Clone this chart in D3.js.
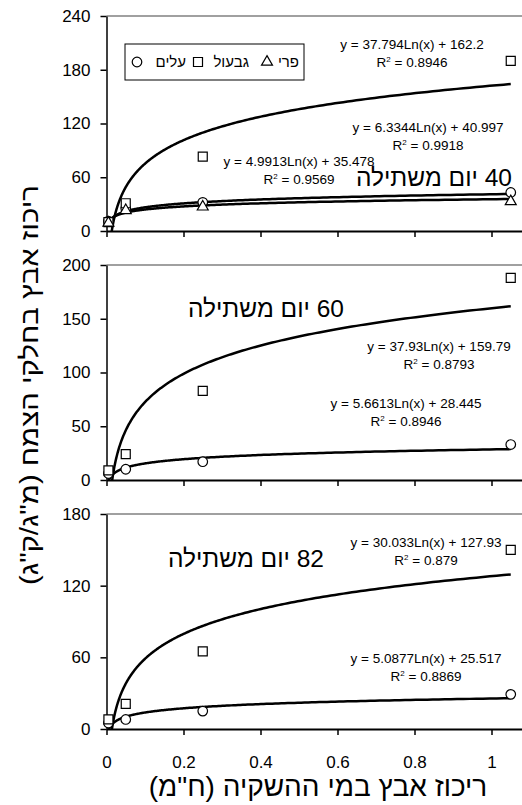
<!DOCTYPE html>
<html>
<head>
<meta charset="utf-8">
<script src="https://cdn.jsdelivr.net/npm/d3@7"></script>
<style>
  body { margin: 0; background: #fff; }
  svg { display: block; font-family: Arial, "Liberation Sans", sans-serif; }
</style>
</head>
<body>
<div id="chart"></div>
<script>
// zinc in irrigation water (ppm) - same four levels in every panel
var xConc = [0.005, 0.05, 0.25, 1.05];
var xTicks = [0, 0.2, 0.4, 0.6, 0.8, 1];

var panelNames = ["40 יום משתילה", "60 יום משתילה", "82 יום משתילה"];
var yMaxes = [240, 200, 180];
var yTicks40 = [0, 60, 120, 180, 240];
var yTicks60 = [0, 50, 100, 150, 200];
var yTicks82 = [0, 60, 120, 180];

var seriesNames = ["עלים", "גבעול", "פרי"];   // leaves, stem, fruit

// zinc in plant parts (mg/kg)
var leaves40 = [11, 25, 32, 43];
var stem40   = [10, 31, 83, 190];
var fruit40  = [9, 23, 27, 33];
var leaves60 = [6, 10, 17, 33];
var stem60   = [9, 24, 83, 188];
var leaves82 = [5, 8, 15, 29];
var stem82   = [8, 21, 65, 150];

// log trendlines y = a*Ln(x) + b : [a, b, R2]
var trStem40   = [37.794, 162.2, "0.8946"];
var trLeaves40 = [6.3344, 40.997, "0.9918"];
var trFruit40  = [4.9913, 35.478, "0.9569"];
var trStem60   = [37.93, 159.79, "0.8793"];
var trLeaves60 = [5.6613, 28.445, "0.8946"];
var trStem82   = [30.033, 127.93, "0.879"];
var trLeaves82 = [5.0877, 25.517, "0.8869"];

var W = 522, H = 805;
var left = 106.5, plotH = 215;
var panelTops = [16, 265, 514];

// label spots (px) for the equations and titles
var panels = [
  { yMax: yMaxes[0], ticks: yTicks40, title: panelNames[0], titlePos: [434, 177],
    series: [
      { kind: 0, vals: leaves40, tr: trLeaves40, eq: [428, 127] },
      { kind: 1, vals: stem40, tr: trStem40, eq: [412, 44] },
      { kind: 2, vals: fruit40, tr: trFruit40, eq: [299, 161] }
    ] },
  { yMax: yMaxes[1], ticks: yTicks60, title: panelNames[1], titlePos: [266, 308],
    series: [
      { kind: 0, vals: leaves60, tr: trLeaves60, eq: [406, 403] },
      { kind: 1, vals: stem60, tr: trStem60, eq: [439, 346] }
    ] },
  { yMax: yMaxes[2], ticks: yTicks82, title: panelNames[2], titlePos: [246, 558],
    series: [
      { kind: 0, vals: leaves82, tr: trLeaves82, eq: [426, 658] },
      { kind: 1, vals: stem82, tr: trStem82, eq: [426, 542] }
    ] }
];

var symbols = [
  d3.symbol().type(d3.symbolCircle).size(72),
  d3.symbol().type(d3.symbolSquare).size(81),
  d3.symbol().type(d3.symbolTriangle).size(52)
];

var svg = d3.select("#chart").append("svg")
  .attr("width", W)
  .attr("height", H);

var x = d3.scaleLinear()
  .domain([0, 1.1])
  .range([left, left + 1.1 * 385]);

// sample points for the trendlines, log spaced over the data range
var xMin = d3.min(xConc), xMax = d3.max(xConc);
var xs = d3.range(0, 301).map(function(k) {
  return xMin * Math.pow(xMax / xMin, k / 300);
});

panels.forEach(function(p, i) {
  var top = panelTops[i], bottom = top + plotH;
  var y = d3.scaleLinear().domain([0, p.yMax]).range([bottom, top]);

  svg.append("clipPath").attr("id", "clip" + i)
    .append("rect")
    .attr("x", left).attr("y", top)
    .attr("width", W - left).attr("height", plotH);

  var g = svg.append("g");

  // plot area top edge
  g.append("line")
    .attr("x1", left).attr("x2", W)
    .attr("y1", top).attr("y2", top)
    .attr("stroke", "#808080").attr("stroke-width", 1.5);

  // x axis
  var xAxis = d3.axisBottom(x)
    .tickValues(xTicks)
    .tickSize(6).tickSizeOuter(0).tickPadding(21)
    .tickFormat(i === 2 ? d3.format("") : function() { return ""; });
  var gx = g.append("g")
    .attr("transform", "translate(0," + bottom + ")")
    .call(xAxis);
  gx.select(".domain").attr("stroke-width", 2);
  gx.selectAll(".tick line").attr("stroke-width", 1.5);
  gx.selectAll("text").attr("font-size", 17).attr("fill", "#000");

  // y axis
  var yAxis = d3.axisLeft(y)
    .tickValues(p.ticks)
    .tickSize(6).tickSizeOuter(0).tickPadding(10);
  var gy = g.append("g")
    .attr("transform", "translate(" + left + ",0)")
    .call(yAxis);
  gy.select(".domain").attr("stroke-width", 1.5);
  gy.selectAll(".tick line").attr("stroke-width", 1.5);
  gy.selectAll("text").attr("font-size", 17).attr("fill", "#000");

  var line = d3.line()
    .x(function(d) { return x(d[0]); })
    .y(function(d) { return y(d[1]); });

  // trendlines
  p.series.forEach(function(s) {
    var pts = xs.map(function(v) { return [v, s.tr[0] * Math.log(v) + s.tr[1]]; });
    g.append("path")
      .attr("clip-path", "url(#clip" + i + ")")
      .attr("d", line(pts))
      .attr("fill", "none")
      .attr("stroke", "#000")
      .attr("stroke-width", 2.5);
  });

  // markers
  p.series.forEach(function(s) {
    g.selectAll(null)
      .data(s.vals)
      .enter().append("path")
      .attr("transform", function(d, k) { return "translate(" + x(xConc[k]) + "," + y(d) + ")"; })
      .attr("d", symbols[s.kind])
      .attr("fill", "#fff")
      .attr("stroke", "#000")
      .attr("stroke-width", 1.2);
  });

  // equations
  p.series.forEach(function(s) {
    g.append("text")
      .attr("x", s.eq[0]).attr("y", s.eq[1])
      .attr("dy", "0.35em")
      .attr("text-anchor", "middle")
      .attr("font-size", 13.5)
      .text("y = " + s.tr[0] + "Ln(x) + " + s.tr[1]);
    var r = g.append("text")
      .attr("x", s.eq[0]).attr("y", s.eq[1] + 18)
      .attr("dy", "0.35em")
      .attr("text-anchor", "middle")
      .attr("font-size", 13.5)
      .text("R");
    r.append("tspan").attr("font-size", 8).attr("dy", -5).text("2");
    r.append("tspan").attr("dy", 5).text(" = " + s.tr[2]);
  });

  // panel title
  g.append("text")
    .attr("x", p.titlePos[0]).attr("y", p.titlePos[1])
    .attr("dy", "0.35em")
    .attr("direction", "rtl")
    .attr("text-anchor", "middle")
    .attr("font-size", 24.5)
    .text(p.title);
});

// legend in the top panel
var legend = svg.append("g");
legend.append("rect")
  .attr("x", 125).attr("y", 44)
  .attr("width", 179).attr("height", 36)
  .attr("fill", "#fff").attr("stroke", "#000").attr("stroke-width", 1);
var legendSpots = [[186, 137], [249, 198], [299, 267]];
seriesNames.forEach(function(name, k) {
  legend.append("text")
    .attr("x", legendSpots[k][0]).attr("y", 62)
    .attr("dy", "0.35em")
    .attr("text-anchor", "end")
    .attr("font-size", 15)
    .text(name);
  legend.append("path")
    .attr("transform", "translate(" + legendSpots[k][1] + ",62)")
    .attr("d", symbols[k])
    .attr("fill", "#fff").attr("stroke", "#000").attr("stroke-width", 1.2);
});

// axis titles
svg.append("text")
  .attr("transform", "translate(38,385) rotate(-90)")
  .attr("direction", "rtl")
  .attr("text-anchor", "middle")
  .attr("font-size", 25)
  .attr("textLength", 400)
  .attr("lengthAdjust", "spacingAndGlyphs")
  .text("ריכוז אבץ  בחלקי הצמח  (מ\"ג/ק\"ג)");

svg.append("text")
  .attr("x", 318).attr("y", 796)
  .attr("direction", "rtl")
  .attr("text-anchor", "middle")
  .attr("font-size", 28)
  .text("ריכוז אבץ במי ההשקיה (ח\"מ)");
</script>
</body>
</html>
